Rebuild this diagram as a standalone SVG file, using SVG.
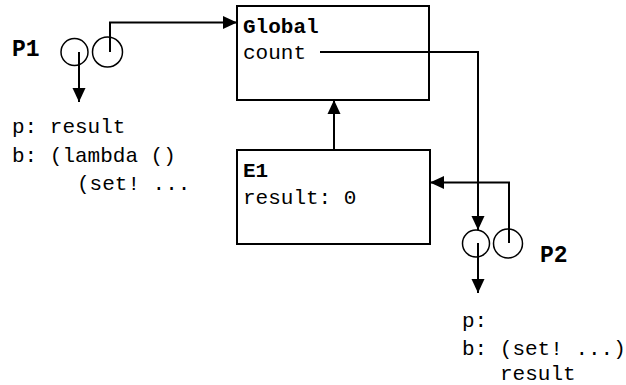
<svg xmlns="http://www.w3.org/2000/svg" width="626" height="385" viewBox="0 0 626 385">
  <style>
    .box { fill: #fff; stroke: #000; stroke-width: 2; }
    .ring { fill: none; stroke: #000; stroke-width: 1.5; }
    .wire { fill: none; stroke: #000; stroke-width: 2; marker-end: url(#head); }
    .t { font-family: "Liberation Mono", "Courier New", monospace; font-size: 21px; fill: #000; }
    .b { font-weight: bold; }
    .lbl { font-family: "Liberation Mono", "Courier New", monospace; font-size: 23px; font-weight: bold; fill: #000; }
  </style>
  <defs>
    <marker id="head" markerUnits="userSpaceOnUse" markerWidth="14" markerHeight="14" viewBox="0 0 14 14" refX="14" refY="7" orient="auto">
      <path d="M0,0.5 L14,7 L0,13.5 Z" fill="#000"/>
    </marker>
  </defs>
  <rect width="626" height="385" fill="#fff"/>

  <g id="global">
    <rect class="box" x="237" y="6" width="192" height="94"/>
    <text class="t b" x="243" y="33">Global</text>
    <text class="t" x="243" y="59">count</text>
  </g>

  <g id="e1">
    <rect class="box" x="237" y="150" width="193" height="94"/>
    <text class="t b" x="243" y="177">E1</text>
    <text class="t" x="243" y="204">result: 0</text>
  </g>

  <g id="p1">
    <text class="lbl" x="12" y="56">P1</text>
    <circle class="ring" cx="74.5" cy="52" r="13.5"/>
    <circle class="ring" cx="107.5" cy="52" r="15"/>
    <text class="t" x="12" y="133">p: result</text>
    <text class="t" x="12" y="162">b: (lambda ()</text>
    <text class="t" x="77" y="190">(set! ...</text>
  </g>

  <g id="p2">
    <circle class="ring" cx="476" cy="243.5" r="13.5"/>
    <circle class="ring" cx="508" cy="243.5" r="14.5"/>
    <text class="lbl" x="540" y="262">P2</text>
    <text class="t" x="462" y="327">p:</text>
    <text class="t" x="462" y="355">b: (set! ...)</text>
    <text class="t" x="500" y="380">result</text>
  </g>

  <g id="connectors">
    <path class="wire" d="M79,52 V102"/>
    <path class="wire" d="M110,52 V22.5 H237"/>
    <path class="wire" d="M320,52 H478 V230"/>
    <path class="wire" d="M334,150 V100"/>
    <path class="wire" d="M509,243 V182.5 H430"/>
    <path class="wire" d="M478,243 V293"/>
  </g>
</svg>
